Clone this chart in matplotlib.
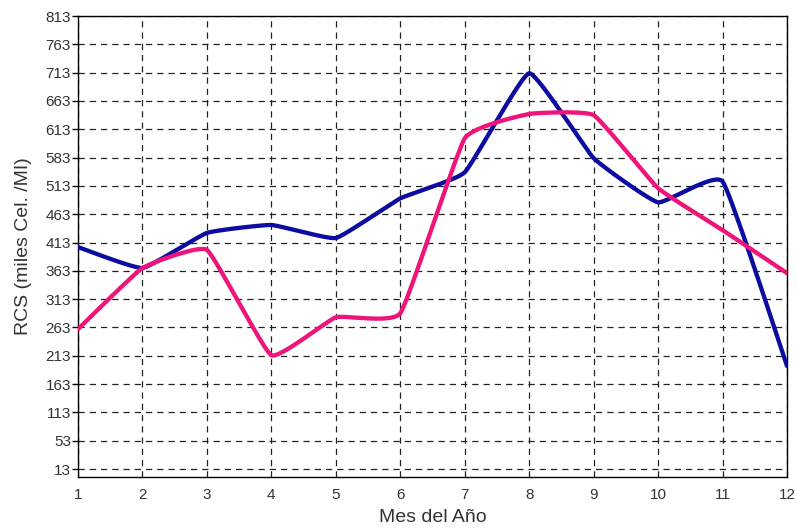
import numpy as np
import matplotlib
matplotlib.use("Agg")
import matplotlib.pyplot as plt

months = list(range(1, 13))
blue = [405, 368, 430, 444, 421, 491, 537, 712, 562, 484, 521, 195]
pink = [260, 368, 400, 214, 281, 288, 597, 640, 638, 509, 435, 359]
ytick_labels = ["13", "53", "113", "163", "213", "263", "313", "363", "413",
                "463", "513", "583", "613", "663", "713", "763", "813"]
xlabel = "Mes del Año"
ylabel = "RCS (miles Cel. /MI)"

plt.rcParams['font.family'] = ['Liberation Sans Narrow', 'Liberation Sans', 'DejaVu Sans']


def smooth(x, y, n=20, tension=0.5):
    x = np.asarray(x, float)
    y = np.asarray(y, float)
    xs, ys = [], []
    m = len(x)
    for i in range(m - 1):
        p0 = (x[i - 1] if i > 0 else x[i], y[i - 1] if i > 0 else y[i])
        p1 = (x[i], y[i])
        p2 = (x[i + 1], y[i + 1])
        p3 = (x[i + 2], y[i + 2]) if i + 2 < m else p2
        t = np.linspace(0, 1, n, endpoint=(i == m - 2))
        m1 = [tension * (p2[k] - p0[k]) for k in range(2)]
        m2 = [tension * (p3[k] - p1[k]) for k in range(2)]
        h00 = 2 * t**3 - 3 * t**2 + 1
        h10 = t**3 - 2 * t**2 + t
        h01 = -2 * t**3 + 3 * t**2
        h11 = t**3 - t**2
        xs.append(h00 * p1[0] + h10 * m1[0] + h01 * p2[0] + h11 * m2[0])
        ys.append(h00 * p1[1] + h10 * m1[1] + h01 * p2[1] + h11 * m2[1])
    return np.concatenate(xs), np.concatenate(ys)


fig = plt.figure(figsize=(7.97, 5.28), dpi=100)
ax = fig.add_axes([78 / 797, 1 - 477 / 528, (787 - 78) / 797, (477 - 16) / 528])

ytick_pos = [13 + 50 * i for i in range(len(ytick_labels))]

bx, by = smooth(months, blue, tension=0.18)
px, py = smooth(months, pink, tension=0.18)
ax.plot(bx, by, color='#0c0ca0', lw=3.1, solid_capstyle='round', solid_joinstyle='round', zorder=3)
ax.plot(px, py, color='#ee1479', lw=3.1, solid_capstyle='round', solid_joinstyle='round', zorder=3)

ax.set_xlim(1, 12)
ax.set_ylim(-1, 813)
ax.set_xticks(months)
ax.set_xticklabels([str(m) for m in months])
ax.set_yticks(ytick_pos)
ax.set_yticklabels(ytick_labels)

ax.grid(True, color='#222222', linestyle=(0, (5, 4)), linewidth=0.9)
for s in ax.spines.values():
    s.set_linewidth(1.0)
ax.tick_params(axis='y', direction='out', length=4, width=1, labelsize=11, pad=1,
               labelcolor='#333333')
ax.tick_params(axis='x', direction='out', length=0, labelsize=11, pad=8,
               labelcolor='#333333')

ax.set_xlabel(xlabel, fontsize=14, labelpad=5, color='#333333')
ax.set_ylabel(ylabel, fontsize=14, labelpad=10, color='#333333')

fig.savefig("out.png", dpi=100)
